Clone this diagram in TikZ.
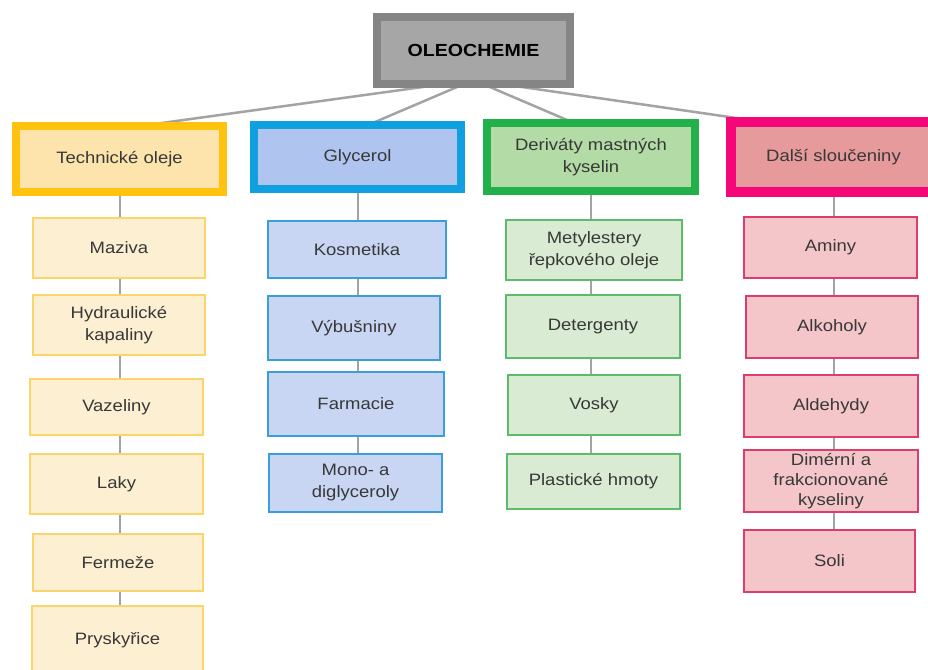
\documentclass[tikz,border=0pt]{standalone}
\usepackage{fontspec}
\setmainfont{Liberation Sans}[FakeStretch=1.12]
\usetikzlibrary{backgrounds}

\definecolor{txt}{HTML}{383838}
\definecolor{linkgray}{HTML}{A3A3A3}
\definecolor{rootF}{HTML}{A6A6A6}
\definecolor{rootD}{HTML}{858585}
\definecolor{yelD}{HTML}{FFC20E}
\definecolor{yelF}{HTML}{FCE4AC}
\definecolor{yelIF}{HTML}{FDF0D2}
\definecolor{yelID}{HTML}{F9D56B}
\definecolor{bluD}{HTML}{10A0E0}
\definecolor{bluF}{HTML}{AFC4EE}
\definecolor{bluIF}{HTML}{C8D6F3}
\definecolor{bluID}{HTML}{3A9ED8}
\definecolor{grnD}{HTML}{22B04B}
\definecolor{grnF}{HTML}{B3DBA5}
\definecolor{grnIF}{HTML}{D9EBD2}
\definecolor{grnID}{HTML}{5DBB6C}
\definecolor{pnkD}{HTML}{F5077A}
\definecolor{pnkF}{HTML}{E79A9B}
\definecolor{pnkIF}{HTML}{F4C6C9}
\definecolor{pnkID}{HTML}{DC3D6C}

\tikzset{
  box/.style={rectangle, inner sep=0pt, outer sep=0pt, align=center,
    text=txt, font=\fontsize{16.5}{22}\selectfont},
  root/.style={box, line width=8pt, draw=rootD, fill=rootF, text=black,
    font=\fontsize{17.5}{22}\selectfont\bfseries},
  head/.style={box, line width=8pt},
  item/.style={box, line width=2pt},
  yhead/.style={head, draw=yelD, fill=yelF},
  bhead/.style={head, draw=bluD, fill=bluF},
  ghead/.style={head, draw=grnD, fill=grnF},
  phead/.style={head, draw=pnkD, fill=pnkF, line width=10pt},
  yitem/.style={item, draw=yelID, fill=yelIF},
  bitem/.style={item, draw=bluID, fill=bluIF},
  gitem/.style={item, draw=grnID, fill=grnIF},
  pitem/.style={item, draw=pnkID, fill=pnkIF},
  link/.style={draw=linkgray, line width=2pt},
  mainlink/.style={draw=linkgray, line width=2.5pt}
}

\begin{document}
\begin{tikzpicture}[x=1pt, y=-1pt]
\clip (0,0) rectangle (928,669);

% root
\node[root, minimum width=193pt, minimum height=67pt] (top) at (473.5,50.5) {OLEOCHEMIE};

% category boxes
\node[yhead, minimum width=207pt, minimum height=66pt] (tech) at (119.5,159) {Technické oleje};
\node[bhead, minimum width=207pt, minimum height=64pt] (glyc) at (357.5,157) {Glycerol};
\node[ghead, minimum width=208pt, minimum height=68pt] (deri) at (591,157) {Deriváty mastných\\kyselin};
\node[phead, minimum width=205pt, minimum height=70pt] (dals) at (833.5,157) {Další sloučeniny};

% technical oils
\node[yitem, minimum width=172pt, minimum height=60pt] (t1) at (119,248) {Maziva};
\node[yitem, minimum width=172pt, minimum height=60pt] (t2) at (119,325) {Hydraulické\\kapaliny};
\node[yitem, minimum width=173pt, minimum height=56pt] (t3) at (116.5,407) {Vazeliny};
\node[yitem, minimum width=173pt, minimum height=60pt] (t4) at (116.5,484) {Laky};
\node[yitem, minimum width=170pt, minimum height=57pt] (t5) at (118,562.5) {Fermeže};
\node[yitem, minimum width=171pt, minimum height=68pt] (t6) at (117.5,640) {Pryskyřice};

% glycerol
\node[bitem, minimum width=178pt, minimum height=57pt] (g1) at (357,249.5) {Kosmetika};
\node[bitem, minimum width=172pt, minimum height=64pt] (g2) at (354,328) {Výbušniny};
\node[bitem, minimum width=176pt, minimum height=64pt] (g3) at (356,404) {Farmacie};
\node[bitem, minimum width=173pt, minimum height=58pt] (g4) at (355.5,483) {Mono- a\\diglyceroly};

% fatty acid derivatives
\node[gitem, minimum width=176pt, minimum height=60pt] (d1) at (594,250) {Metylestery\\řepkového oleje};
\node[gitem, minimum width=174pt, minimum height=63pt] (d2) at (593,326.5) {Detergenty};
\node[gitem, minimum width=172pt, minimum height=60pt] (d3) at (594,405) {Vosky};
\node[gitem, minimum width=173pt, minimum height=55pt] (d4) at (593.5,481.5) {Plastické hmoty};

% other compounds
\node[pitem, minimum width=173pt, minimum height=61pt] (p1) at (830.5,247.5) {Aminy};
\node[pitem, minimum width=172pt, minimum height=62pt] (p2) at (832,327) {Alkoholy};
\node[pitem, minimum width=174pt, minimum height=62pt] (p3) at (831,406) {Aldehydy};
\node[pitem, minimum width=174pt, minimum height=62pt, font=\fontsize{16.5}{20}\selectfont] (p4) at (831,481) {Dimérní a\\frakcionované\\kyseliny};
\node[pitem, minimum width=171pt, minimum height=62pt] (p5) at (829.5,561) {Soli};

\begin{pgfonlayer}{background}
  \fill[white] (0,0) rectangle (928,669);
  % root to categories
  \draw[mainlink] ([yshift=4pt]top.south) -- ([xshift=20.5pt]tech.north);
  \draw[mainlink] ([yshift=4pt]top.south) -- ([xshift=10.5pt]glyc.north);
  \draw[mainlink] ([yshift=4pt]top.south) -- ([xshift=-17pt]deri.north);
  \draw[mainlink] ([yshift=4pt]top.south) -- ([xshift=-69.5pt]dals.north);
  % category columns
  \foreach \u/\v in {tech/t1, t1/t2, t2/t3, t3/t4, t4/t5, t5/t6}
    \draw[link] (\u.south -| tech.south) -- (\v.north -| tech.south);
  \foreach \u/\v in {glyc/g1, g1/g2, g2/g3, g3/g4}
    \draw[link] (\u.south -| glyc.south) -- (\v.north -| glyc.south);
  \foreach \u/\v in {deri/d1, d1/d2, d2/d3, d3/d4}
    \draw[link] (\u.south -| deri.south) -- (\v.north -| deri.south);
  \foreach \u/\v in {dals/p1, p1/p2, p2/p3, p3/p4, p4/p5}
    \draw[link] (\u.south -| dals.south) -- (\v.north -| dals.south);
\end{pgfonlayer}
\end{tikzpicture}
\end{document}
